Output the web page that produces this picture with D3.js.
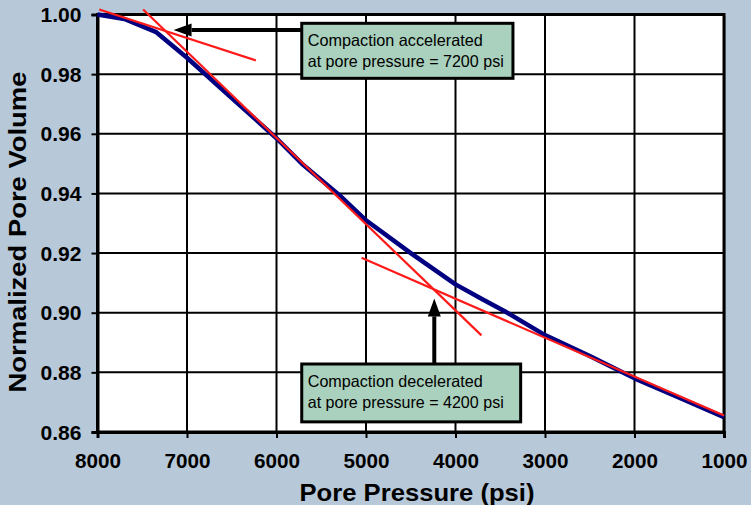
<!DOCTYPE html>
<html>
<head>
<meta charset="utf-8">
<script src="https://cdn.jsdelivr.net/npm/d3@7"></script>
<style>
  body { margin: 0; background: #b7c8d8; }
  svg { display: block; }
</style>
</head>
<body>
<script>
// measured pore volume vs pore pressure (depletion)
const pressure = [8000, 7700, 7350, 7000, 6500, 6000, 5700, 5300, 5000, 4500, 4000, 3700, 3450, 3000, 2500, 2000, 1500, 1000];
const poreVolume = [1.000, 0.9985, 0.9942, 0.9855, 0.9720, 0.9585, 0.9495, 0.9395, 0.9310, 0.9200, 0.9095, 0.9045, 0.9005, 0.8925, 0.8855, 0.8780, 0.8715, 0.8650];

// hand-fitted trend lines [pressure, volume]
const earlyTrend = [[7980, 1.0017], [6230, 0.9846]];
const midTrend = [[7490, 1.0017], [3710, 0.8924]];
const lateTrend = [[5050, 0.9184], [1000, 0.8655]];

const xTicks = [8000, 7000, 6000, 5000, 4000, 3000, 2000, 1000];
const yTicks = [0.86, 0.88, 0.90, 0.92, 0.94, 0.96, 0.98, 1.00];

const notes = [
  { lines: ["Compaction accelerated", "at pore pressure = 7200 psi"], box: [5718, 0.99705, 3358, 0.9786], arrowFrom: [5718, 0.9948], arrowTo: [7150, 0.9948] },
  { lines: ["Compaction decelerated", "at pore pressure = 4200 psi"], box: [5718, 0.8828, 3272, 0.8634], arrowFrom: [4237, 0.8828], arrowTo: [4237, 0.9048] }
];

const W = 751, H = 505;
const x = d3.scaleLinear().domain([8000, 1000]).range([97.5, 724]);
const y = d3.scaleLinear().domain([0.86, 1.0]).range([432, 14.5]);

const svg = d3.select("body").append("svg")
  .attr("width", W)
  .attr("height", H);

svg.append("rect")
  .attr("width", W).attr("height", H)
  .attr("fill", "#b7c8d8");

// plot area + shadow
svg.append("rect")
  .attr("x", x(8000) + 2).attr("y", y(1.0) + 2)
  .attr("width", x(1000) - x(8000)).attr("height", y(0.86) - y(1.0))
  .attr("fill", "#8f9aa5");
svg.append("rect")
  .attr("x", x(8000)).attr("y", y(1.0))
  .attr("width", x(1000) - x(8000)).attr("height", y(0.86) - y(1.0))
  .attr("fill", "#fff");

// grid
let grid = svg.append("g").attr("stroke", "#000").attr("stroke-width", 2);
grid.selectAll(".vg").data(xTicks).enter().append("line")
  .attr("x1", (d) => x(d)).attr("x2", (d) => x(d))
  .attr("y1", y(1.0)).attr("y2", y(0.86));
grid.selectAll(".hg").data(yTicks).enter().append("line")
  .attr("x1", x(8000)).attr("x2", x(1000))
  .attr("y1", (d) => y(d)).attr("y2", (d) => y(d));

// frame
svg.append("rect")
  .attr("x", x(8000)).attr("y", y(1.0))
  .attr("width", x(1000) - x(8000)).attr("height", y(0.86) - y(1.0))
  .attr("fill", "none").attr("stroke", "#000").attr("stroke-width", 3);

// axes
let xAxis = svg.append("g")
  .attr("transform", "translate(0," + y(0.86) + ")")
  .call(d3.axisBottom(x).tickValues(xTicks).tickSize(6).tickPadding(12).tickFormat(d3.format("d")));
let yAxis = svg.append("g")
  .attr("transform", "translate(" + x(8000) + ",0)")
  .call(d3.axisLeft(y).tickValues(yTicks).tickSize(6).tickPadding(10).tickFormat(d3.format(".2f")));

[xAxis, yAxis].forEach((a) => {
  a.select(".domain").attr("stroke-width", 3);
  a.selectAll(".tick line").attr("stroke-width", 2);
  a.selectAll("text")
    .attr("fill", "#000")
    .style("font-family", "'Liberation Sans', Arial, sans-serif")
    .style("font-weight", "bold")
    .style("font-size", "20px")
    .attr("lengthAdjust", "spacingAndGlyphs");
});
xAxis.selectAll("text").attr("dy", "0.92em").attr("textLength", 46);
yAxis.selectAll("text").attr("dy", "0.36em").attr("textLength", 41);

// curves
let line = d3.line().x((d) => x(d[0])).y((d) => y(d[1]));
svg.append("path")
  .datum(d3.zip(pressure, poreVolume))
  .attr("d", line)
  .attr("fill", "none")
  .attr("stroke", "#000080")
  .attr("stroke-width", 4.5)
  .attr("stroke-linejoin", "round");

svg.selectAll(".trend")
  .data([earlyTrend, midTrend, lateTrend])
  .enter().append("path")
  .attr("d", line)
  .attr("fill", "none")
  .attr("stroke", "#ff1a1a")
  .attr("stroke-width", 2.2);

// annotations
notes.forEach((n) => {
  let x0 = x(n.box[0]), y0 = y(n.box[1]), x1 = x(n.box[2]), y1 = y(n.box[3]);
  let ax0 = x(n.arrowFrom[0]), ay0 = y(n.arrowFrom[1]);
  let ax1 = x(n.arrowTo[0]), ay1 = y(n.arrowTo[1]);
  let len = Math.hypot(ax1 - ax0, ay1 - ay0);
  let ux = (ax1 - ax0) / len, uy = (ay1 - ay0) / len;
  let bx = ax1 - ux * 18, by = ay1 - uy * 18;

  svg.append("line")
    .attr("x1", ax0).attr("y1", ay0).attr("x2", bx).attr("y2", by)
    .attr("stroke", "#000").attr("stroke-width", 4);
  svg.append("path")
    .attr("d", "M" + ax1 + "," + ay1
      + "L" + (bx - uy * 6.5) + "," + (by + ux * 6.5)
      + "L" + (bx + uy * 6.5) + "," + (by - ux * 6.5) + "Z")
    .attr("fill", "#000");

  svg.append("rect")
    .attr("x", x0).attr("y", y0)
    .attr("width", x1 - x0).attr("height", y1 - y0)
    .attr("fill", "#a9d1bd")
    .attr("stroke", "#000")
    .attr("stroke-width", 3);

  n.lines.forEach((t, i) => {
    svg.append("text")
      .attr("x", x0 + 6)
      .attr("y", y0 + 23 + i * 21)
      .attr("textLength", i === 0 ? 175 : 196)
      .attr("lengthAdjust", "spacingAndGlyphs")
      .style("font-family", "'Liberation Sans Narrow', 'Arial Narrow', 'Liberation Sans', sans-serif")
      .style("font-size", "16.5px")
      .attr("fill", "#000")
      .text(t);
  });
});

// axis titles
svg.append("text")
  .attr("x", 417).attr("y", 501)
  .attr("text-anchor", "middle")
  .attr("textLength", 235)
  .attr("lengthAdjust", "spacingAndGlyphs")
  .style("font-family", "'Liberation Sans', Arial, sans-serif")
  .style("font-weight", "bold")
  .style("font-size", "24px")
  .text("Pore Pressure (psi)");

svg.append("text")
  .attr("transform", "translate(26,232) rotate(-90)")
  .attr("text-anchor", "middle")
  .attr("textLength", 321)
  .attr("lengthAdjust", "spacingAndGlyphs")
  .style("font-family", "'Liberation Sans', Arial, sans-serif")
  .style("font-weight", "bold")
  .style("font-size", "24px")
  .text("Normalized Pore Volume");
</script>
</body>
</html>
